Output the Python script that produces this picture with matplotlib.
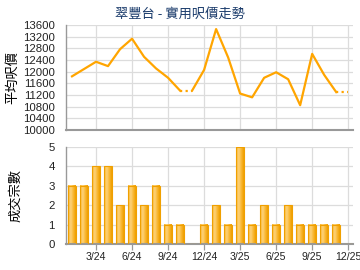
import numpy as np
import matplotlib.pyplot as plt
from matplotlib.colors import LinearSegmentedColormap

plt.rcParams['font.family'] = ['Liberation Sans', 'Noto Sans CJK TC', 'DejaVu Sans']
plt.rcParams['axes.unicode_minus'] = False

# data: Jan 2024 .. Dec 2025
months = ['1/24', '2/24', '3/24', '4/24', '5/24', '6/24', '7/24', '8/24', '9/24', '10/24', '11/24', '12/24',
          '1/25', '2/25', '3/25', '4/25', '5/25', '6/25', '7/25', '8/25', '9/25', '10/25', '11/25', '12/25']
price = [11840, 12090, 12340, 12190, 12770, 13130, 12510, 12110, 11790, 11350, 11350, 12060,
         13460, 12490, 11250, 11120, 11790, 11980, 11740, 10850, 12610, 11890, 11300, 11300]
deals = [3, 3, 4, 4, 2, 3, 2, 3, 1, 1, 0, 1, 2, 1, 5, 1, 2, 1, 2, 1, 1, 1, 1, 0]
tick_labels = ['3/24', '6/24', '9/24', '12/24', '3/25', '6/25', '9/25', '12/25']

x = np.arange(len(months))
price = np.array(price, dtype=float)
tick_pos = [months.index(t) for t in tick_labels]

grid_c = '#dcdcdc'
spine_c = '#999999'
orange = '#ffa500'
fs = 8.2
cjk = ['Noto Sans CJK TC', 'DejaVu Sans']

fig = plt.figure(figsize=(3.6, 2.7), dpi=100)
ax1 = fig.add_axes([66/360, 1-130/270, 287/360, 105/270])
ax2 = fig.add_axes([66/360, 1-244/270, 287/360, 97/270])

fig.text(0.5, 1-14/270, '翠豐台 - 實用呎價走勢', ha='center', va='center',
         fontsize=9.5, color='#1a3b6b', family=cjk)

# 上圖：呎價（無成交月份沿用上月數值，以虛線表示）
ax1.plot(x[:10], price[:10], color=orange, linewidth=1.6)
ax1.plot(x[10:23], price[10:23], color=orange, linewidth=1.6)
ax1.plot(x[9:11], price[9:11], color=orange, linewidth=1.6, linestyle=(0, (1, 1.5)))
ax1.plot(x[22:24], price[22:24], color=orange, linewidth=1.6, linestyle=(0, (1, 1.5)))
ax1.set_xlim(-0.5, 23.4)
ax1.set_ylim(10000, 13600)
ax1.set_yticks(np.arange(10000, 13601, 400))
ax1.set_xticks(tick_pos)
ax1.tick_params(axis='x', labelbottom=False, length=0)
ax1.tick_params(axis='y', length=0, pad=8, labelsize=fs, labelcolor='#222222')
ax1.grid(True, color=grid_c, linewidth=0.9)
ax1.set_axisbelow(True)
ax1.set_ylabel('平均呎價', family=cjk, fontsize=9.5, labelpad=3)

# 下圖：成交宗數
w = 0.66
grad = np.abs(np.linspace(0, 1, 32) - 0.35)
grad = np.vstack([grad, grad])
cmap = LinearSegmentedColormap.from_list('bar', ['#fdd27a', '#f9b733', '#f0a000'])
for xi, d in zip(x, deals):
    if d <= 0:
        continue
    ax2.imshow(grad, cmap=cmap, extent=(xi - w/2, xi + w/2, 0, d), aspect='auto',
               interpolation='bilinear', zorder=2)
ax2.bar(x, deals, width=w, facecolor='none', edgecolor='#f0a000', linewidth=0.8, zorder=3)
ax2.set_xlim(-0.5, 23.4)
ax2.set_ylim(0, 5)
ax2.set_yticks(range(0, 6))
ax2.set_xticks(tick_pos)
ax2.set_xticklabels(tick_labels)
ax2.tick_params(axis='x', length=4, color=spine_c, width=0.9, labelsize=7.6, pad=2, labelcolor='#222222')
ax2.tick_params(axis='y', length=0, pad=8, labelsize=fs, labelcolor='#222222')
ax2.grid(True, color=grid_c, linewidth=0.9)
ax2.set_axisbelow(True)
ax2.set_ylabel('成交宗數', family=cjk, fontsize=9.5, labelpad=19)

for ax in (ax1, ax2):
    ax.spines['top'].set_visible(False)
    ax.spines['right'].set_visible(False)
    ax.spines['left'].set_color(spine_c)
    ax.spines['bottom'].set_color(spine_c)
    ax.spines['bottom'].set_linewidth(1.5)
    ax.spines['left'].set_linewidth(1.0)

fig.savefig('out.png', dpi=100)
